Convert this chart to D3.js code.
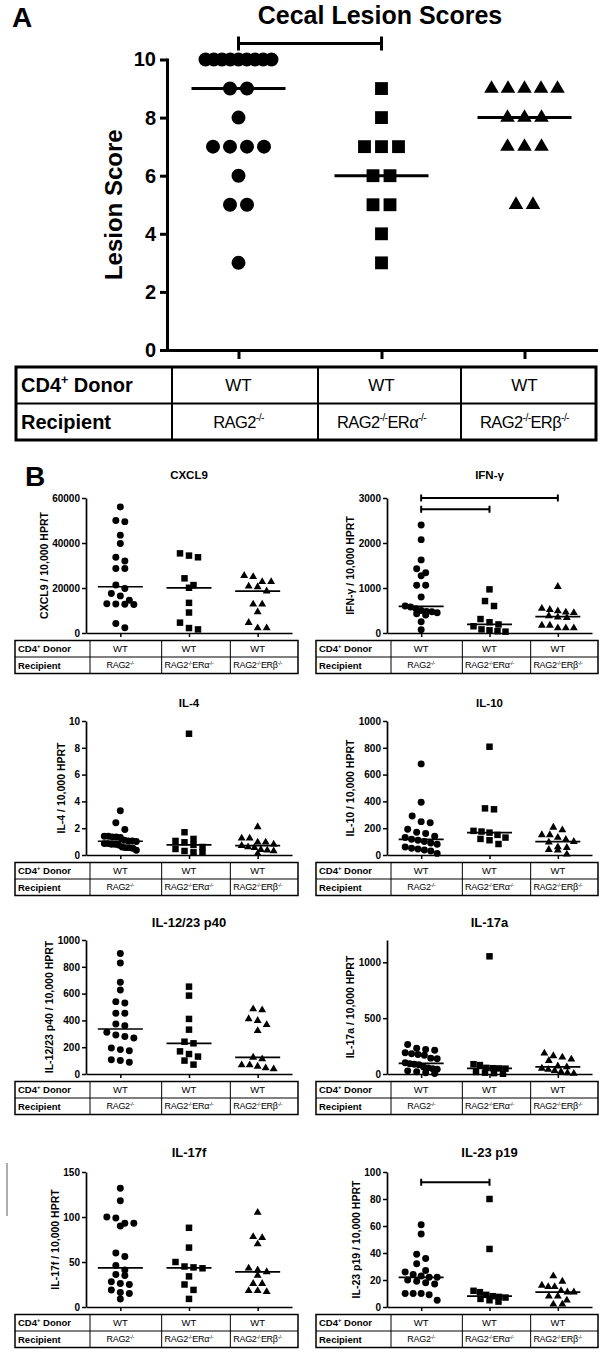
<!DOCTYPE html>
<html><head><meta charset="utf-8">
<script src="https://cdn.jsdelivr.net/npm/d3@7"></script>
<style>
body{margin:0;background:#fff}
svg{display:block}
text{font-family:"Liberation Sans",Arial,Helvetica,sans-serif;fill:#000}
</style>
</head><body>
<svg id="c" width="607" height="1356"></svg>
<script>
// ---------------- DATA ----------------
const groupIdx = [0, 1, 2];
const donorLabel = "CD4^+^ Donor";
const recipientLabel = "Recipient";
const donorRow = ["WT", "WT", "WT"];
const recipientRow = ["RAG2^-/-^", "RAG2^-/-^ERα^-/-^", "RAG2^-/-^ERβ^-/-^"];

// Panel A : Cecal lesion scores
const lesionTitle = "Cecal Lesion Scores";
const lesionYLabel = "Lesion Score";
const lesionRAG2 = [10,10,10,10,10,10,10,10,10,9,9,8,7,7,7,7,6,5,5,3];
const lesionERa  = [9,8,7,7,7,6,6,5,5,4,3];
const lesionERb  = [9,9,9,9,9,8,8,8,7,7,7,5,5];
const lesionTicks = [0,2,4,6,8,10];
const lesionBrackets = [[0,1,10.55]];

// Panel B
const cxcl9RAG2 = [56000,50000,49500,43500,39800,33700,32000,28700,28700,21300,19800,17600,16500,14600,13000,12900,12800,12700,4200,2300];
const cxcl9ERa  = [35400,34400,33650,24300,21300,20100,13400,9100,4600,2200,1600];
const cxcl9ERb  = [25500,25000,22800,22800,20800,20500,18600,12800,12800,9400,4600,2200,2200];
const cxcl9Ticks = [0,20000,40000,60000];

const ifnRAG2 = [2400,2075,1625,1430,1340,1270,1060,1060,800,600,580,540,500,480,470,450,430,400,250,75];
const ifnERa  = [970,710,600,310,240,190,150,80,60,40,30];
const ifnERb  = [1030,545,520,490,460,450,380,350,340,170,170,110,110,110];
const ifnTicks = [0,1000,2000,3000];
const ifnBrackets = [[0,2,3000],[0,1,2750]];

const il4RAG2 = [3.3,2.4,1.9,1.4,1.4,1.35,1.35,1.3,1.1,1.05,1.05,1.0,0.85,0.85,0.8,0.8,0.75,0.6,0.55,0.55,0.5,0.35];
const il4ERa  = [9.05,1.7,1.2,1.05,0.95,0.75,0.6,0.45,0.3,0.2,0.2];
const il4ERb  = [2.1,1.25,1.25,0.95,0.95,0.8,0.7,0.6,0.55,0.4,0.35,0.3,0.1];
const il4Ticks = [0,2,4,6,8,10];

const il10RAG2 = [680,393,291,249,241,192,170,160,140,130,117,110,100,90,80,60,50,45,37,30,12];
const il10ERa  = [808,348,341,180,175,167,150,130,120,110,82];
const il10ERb  = [206,187,150,150,130,115,100,95,60,55,40,35,5];
const il10Ticks = [0,200,400,600,800,1000];

const il12RAG2 = [900,828,684,627,540,530,453,453,373,361,311,291,280,269,194,182,174,107,100,87];
const il12ERa  = [652,585,411,331,241,229,169,149,130,100,70];
const il12ERb  = [485,478,411,398,368,323,124,112,67,67,57,45,37];
const il12Ticks = [0,200,400,600,800,1000];

const il17aRAG2 = [265,230,220,212,190,182,175,168,142,136,100,92,88,82,62,55,48,42,28,20,12,5];
const il17aERa  = [1054,88,80,55,52,50,48,18,12,8,2];
const il17aERb  = [186,162,150,132,120,70,63,50,40,30,20,10,5];
const il17aTicks = [0,500,1000];

const il17fRAG2 = [132,118,100,99,93,93,90,60,56,46,41,36,35,28,26,25,19,16,15,9];
const il17fERa  = [88,66,50,45,44,43,34,25,19,9];
const il17fERb  = [105,78,77,70,43,41,39,35,26,26,18,18,17];
const il17fTicks = [0,50,100,150];

const il23RAG2 = [61,54,39,36,32,27,26,24,23,22,22,20,19,18,17,10,10,10,9,5];
const il23ERa  = [80,43,12,11,9,8,7.5,7,6,5,4];
const il23ERb  = [23,19,16,15,15,12,11,11,8,8,5,2,2];
const il23Ticks = [0,20,40,60,80,100];
const il23Brackets = [[0,1,92.5]];

// ---------------- HELPERS ----------------
const svg = d3.select("#c");
const symbols = [d3.symbolCircle, d3.symbolSquare, d3.symbolTriangle];

function rich(textSel, str, size){
  let shifted = false;
  const up = size*0.4;
  str.split("^").forEach((p,i)=>{
    const sup = i % 2 === 1;
    if(!p) { return; }
    const t = textSel.append("tspan").text(p).attr("font-size", sup ? size*0.62 : size);
    const want = sup ? -up : 0, cur = shifted ? -up : 0;
    if(want !== cur) t.attr("dy", want - cur);
    shifted = sup;
  });
}

// GraphPad-like scatter: points within one symbol height share a row and are
// spread horizontally, compressed when the row gets wider than the column.
function spread(vals, y, cx, hb, sx, maxW){
  const pts = vals.map(v => ({v, py: y(v)})).sort((a,b) => a.py - b.py);
  const rows = []; let cur = null;
  pts.forEach(p => {
    if(cur && p.py - cur[0].py < hb) cur.push(p);
    else { cur = [p]; rows.push(cur); }
  });
  rows.forEach(r => {
    const n = r.length, s = n > 1 ? Math.min(sx, maxW/(n-1)) : 0;
    r.forEach((p,i) => { p.px = cx + (i - (n-1)/2) * s; });
  });
  return pts;
}

function drawTable(g, o){
  const bottom = o.top + 2*o.rowH;
  g.append("rect").attr("x", o.left).attr("y", o.top)
    .attr("width", o.right - o.left).attr("height", bottom - o.top)
    .attr("fill","none").attr("stroke","#000").attr("stroke-width", o.outerW);
  g.append("line").attr("x1", o.left).attr("x2", o.right)
    .attr("y1", o.top + o.rowH).attr("y2", o.top + o.rowH)
    .attr("stroke","#000").attr("stroke-width", o.innerW);
  o.dividers.forEach(d => g.append("line").attr("x1", d).attr("x2", d)
    .attr("y1", o.top).attr("y2", bottom).attr("stroke","#000").attr("stroke-width", o.innerW));
  const r1 = o.top + o.rowH/2, r2 = o.top + 1.5*o.rowH;
  const t1 = g.append("text").attr("x", o.left + o.labPad).attr("y", r1 + o.labSize*0.36)
    .attr("font-weight","bold");
  rich(t1, donorLabel, o.labSize);
  g.append("text").attr("x", o.left + o.labPad).attr("y", r2 + o.labSize*0.36)
    .attr("font-weight","bold").attr("font-size", o.labSize).text(recipientLabel);
  groupIdx.forEach(i => {
    g.append("text").attr("x", o.x(i)).attr("y", r1 + o.cellSize*0.36)
      .attr("text-anchor","middle").attr("font-size", o.cellSize).text(donorRow[i]);
    const t = g.append("text").attr("x", o.x(i)).attr("y", r2 + o.recSize*0.36)
      .attr("text-anchor","middle").attr("letter-spacing", o.recLS);
    rich(t, recipientRow[i], o.recSize);
  });
}

function drawBracket(g, x, y, b, tickH, sw){
  const [a, c, lvl] = b, yy = y(lvl);
  g.append("path").attr("d", `M${x(a)},${yy}H${x(c)}M${x(a)},${yy-tickH}V${yy+tickH}M${x(c)},${yy-tickH}V${yy+tickH}`)
    .attr("stroke","#000").attr("stroke-width", sw).attr("fill","none");
}

// ---------------- PANEL A ----------------
(function(){
  const x0 = 167, x1 = 596, yTop = 59.5, yBot = 350;
  const g = svg.append("g");
  const x = d3.scalePoint().domain(groupIdx).range([x0, x1]).padding(0.5);
  const y = d3.scaleLinear().domain([0, 10]).range([yBot, yTop]);
  const series = [lesionRAG2, lesionERa, lesionERb];

  g.append("text").attr("x", 12).attr("y", 27).attr("font-size", 28).attr("font-weight","bold").text("A");
  g.append("text").attr("x", 380).attr("y", 24).attr("text-anchor","middle")
    .attr("font-size", 25).attr("font-weight","bold").text(lesionTitle);

  const ya = g.append("g").attr("transform", `translate(${x0},0)`)
    .call(d3.axisLeft(y).tickValues(lesionTicks).tickSize(7).tickSizeOuter(0).tickPadding(4));
  ya.select(".domain").attr("stroke-width", 3).attr("stroke-linecap","square");
  ya.selectAll(".tick line").attr("stroke-width", 3);
  ya.selectAll(".tick text").attr("font-size", 20).attr("font-weight","bold")
    .attr("font-family","Liberation Sans, Arial, sans-serif").attr("fill","#000");

  const xa = g.append("g").attr("transform", `translate(0,${yBot})`)
    .call(d3.axisBottom(x).tickSize(9).tickSizeOuter(0).tickFormat(""));
  xa.select(".domain").attr("stroke-width", 3).attr("stroke-linecap","square");
  xa.selectAll(".tick line").attr("stroke-width", 3);

  g.append("text").attr("transform", `translate(114,${(yTop+yBot)/2}) rotate(-90)`)
    .attr("text-anchor","middle").attr("dy", "0.35em").attr("font-size", 24).attr("font-weight","bold")
    .text(lesionYLabel);

  const sizes = [154, 165, 92];
  series.forEach((vals, gi) => {
    const pts = spread(vals, y, x(gi), 14, 17, 66);
    g.append("g").selectAll("path").data(pts).join("path")
      .attr("transform", d => `translate(${d.px},${d.py})`)
      .attr("d", d3.symbol().type(symbols[gi]).size(sizes[gi])).attr("fill","#000");
    const m = y(d3.median(vals));
    g.append("line").attr("x1", x(gi)-47).attr("x2", x(gi)+47).attr("y1", m).attr("y2", m)
      .attr("stroke","#000").attr("stroke-width", 3);
  });
  lesionBrackets.forEach(b => drawBracket(g, x, y, b, 7, 3));

  const mids = [ (x(0)+x(1))/2 + 8, (x(1)+x(2))/2 + 8 ];
  drawTable(g, {left: 16, dividers: [x0+5, ...mids], right: x1, top: 367, rowH: 36.5,
    x, outerW: 3, innerW: 2, labPad: 5, labSize: 20, cellSize: 17, recSize: 16.5, recLS: -0.6});
})();

// ---------------- PANEL B ----------------
svg.append("text").attr("x", 25).attr("y", 486).attr("font-size", 28).attr("font-weight","bold").text("B");

const panelsB = [
  {title:"CXCL9", ylab:"CXCL9 / 10,000 HPRT", series:[cxcl9RAG2,cxcl9ERa,cxcl9ERb], ticks:cxcl9Ticks, max:60000, brackets:[], col:0, row:0},
  {title:"IFN-γ", ylab:"IFN-γ / 10,000 HPRT", series:[ifnRAG2,ifnERa,ifnERb], ticks:ifnTicks, max:3000, brackets:ifnBrackets, col:1, row:0},
  {title:"IL-4", ylab:"IL-4 / 10,000 HPRT", series:[il4RAG2,il4ERa,il4ERb], ticks:il4Ticks, max:10, brackets:[], col:0, row:1},
  {title:"IL-10", ylab:"IL-10 / 10,000 HPRT", series:[il10RAG2,il10ERa,il10ERb], ticks:il10Ticks, max:1000, brackets:[], col:1, row:1},
  {title:"IL-12/23 p40", ylab:"IL-12/23 p40 / 10,000 HPRT", series:[il12RAG2,il12ERa,il12ERb], ticks:il12Ticks, max:1000, brackets:[], col:0, row:2},
  {title:"IL-17a", ylab:"IL-17a / 10,000 HPRT", series:[il17aRAG2,il17aERa,il17aERb], ticks:il17aTicks, max:1200, brackets:[], col:1, row:2},
  {title:"IL-17f", ylab:"IL-17f / 10,000 HPRT", series:[il17fRAG2,il17fERa,il17fERb], ticks:il17fTicks, max:150, brackets:[], col:0, row:3},
  {title:"IL-23 p19", ylab:"IL-23 p19 / 10,000 HPRT", series:[il23RAG2,il23ERa,il23ERb], ticks:il23Ticks, max:100, brackets:il23Brackets, col:1, row:3}
];
const colGeom = [{x0:86, x1:292}, {x0:387, x1:592}];
const rowGeom = [
  {top:498, bot:633, titleY:479, ts:11.5},
  {top:721, bot:855, titleY:707, ts:11.5},
  {top:940, bot:1074, titleY:927, ts:13},
  {top:1172, bot:1307, titleY:1157, ts:13}
];

panelsB.forEach(p => {
  const {x0, x1} = colGeom[p.col];
  const {top, bot, titleY, ts} = rowGeom[p.row];
  const g = svg.append("g");
  const x = d3.scalePoint().domain(groupIdx).range([x0, x1]).padding(0.5);
  const y = d3.scaleLinear().domain([0, p.max]).range([bot, top]);

  g.append("text").attr("x", (x0+x1)/2).attr("y", titleY).attr("text-anchor","middle")
    .attr("font-size", ts).attr("font-weight","bold").text(p.title);

  const ya = g.append("g").attr("transform", `translate(${x0},0)`)
    .call(d3.axisLeft(y).tickValues(p.ticks).tickSize(4).tickSizeOuter(0).tickPadding(2).tickFormat(d3.format("d")));
  ya.select(".domain").attr("stroke-width", 1.7);
  ya.selectAll(".tick line").attr("stroke-width", 1.5);
  ya.selectAll(".tick text").attr("font-size", 10).attr("font-weight","bold")
    .attr("font-family","Liberation Sans, Arial, sans-serif").attr("fill","#000");
  let tw = 0;
  ya.selectAll(".tick text").each(function(){ tw = Math.max(tw, this.getComputedTextLength()); });

  const xa = g.append("g").attr("transform", `translate(0,${bot})`)
    .call(d3.axisBottom(x).tickSize(4).tickSizeOuter(0).tickFormat(""));
  xa.select(".domain").attr("stroke-width", 1.7);
  xa.selectAll(".tick line").attr("stroke-width", 1.5);

  g.append("text").attr("transform", `translate(${x0 - 6 - tw - 8},${(top+bot)/2}) rotate(-90)`)
    .attr("text-anchor","middle").attr("dy","0.35em").attr("font-size", 10.5).attr("font-weight","bold")
    .text(p.ylab);

  const sizes = [38, 42, 27];
  p.series.forEach((vals, gi) => {
    const pts = spread(vals, y, x(gi), 7, 9, 32);
    g.append("g").selectAll("path").data(pts).join("path")
      .attr("transform", d => `translate(${d.px},${d.py})`)
      .attr("d", d3.symbol().type(symbols[gi]).size(sizes[gi])).attr("fill","#000");
    const m = y(d3.median(vals));
    g.append("line").attr("x1", x(gi)-22.5).attr("x2", x(gi)+22.5).attr("y1", m).attr("y2", m)
      .attr("stroke","#000").attr("stroke-width", 1.7);
  });
  p.brackets.forEach(b => drawBracket(g, x, y, b, 3.5, 2));

  const mids = [ (x(0)+x(1))/2 + 7, (x(1)+x(2))/2 + 7 ];
  drawTable(g, {left: x0 - 71, dividers: [x0+4, ...mids], right: x1 + 6, top: bot + 7.5, rowH: 16.5,
    x, outerW: 1.5, innerW: 1, labPad: 3, labSize: 9.5, cellSize: 9.5, recSize: 9, recLS: -0.3});
});

// scan artefact line at left margin
svg.append("line").attr("x1", 7).attr("x2", 7).attr("y1", 1163).attr("y2", 1216)
  .attr("stroke", "#777").attr("stroke-width", 1.2);
</script>
</body></html>
